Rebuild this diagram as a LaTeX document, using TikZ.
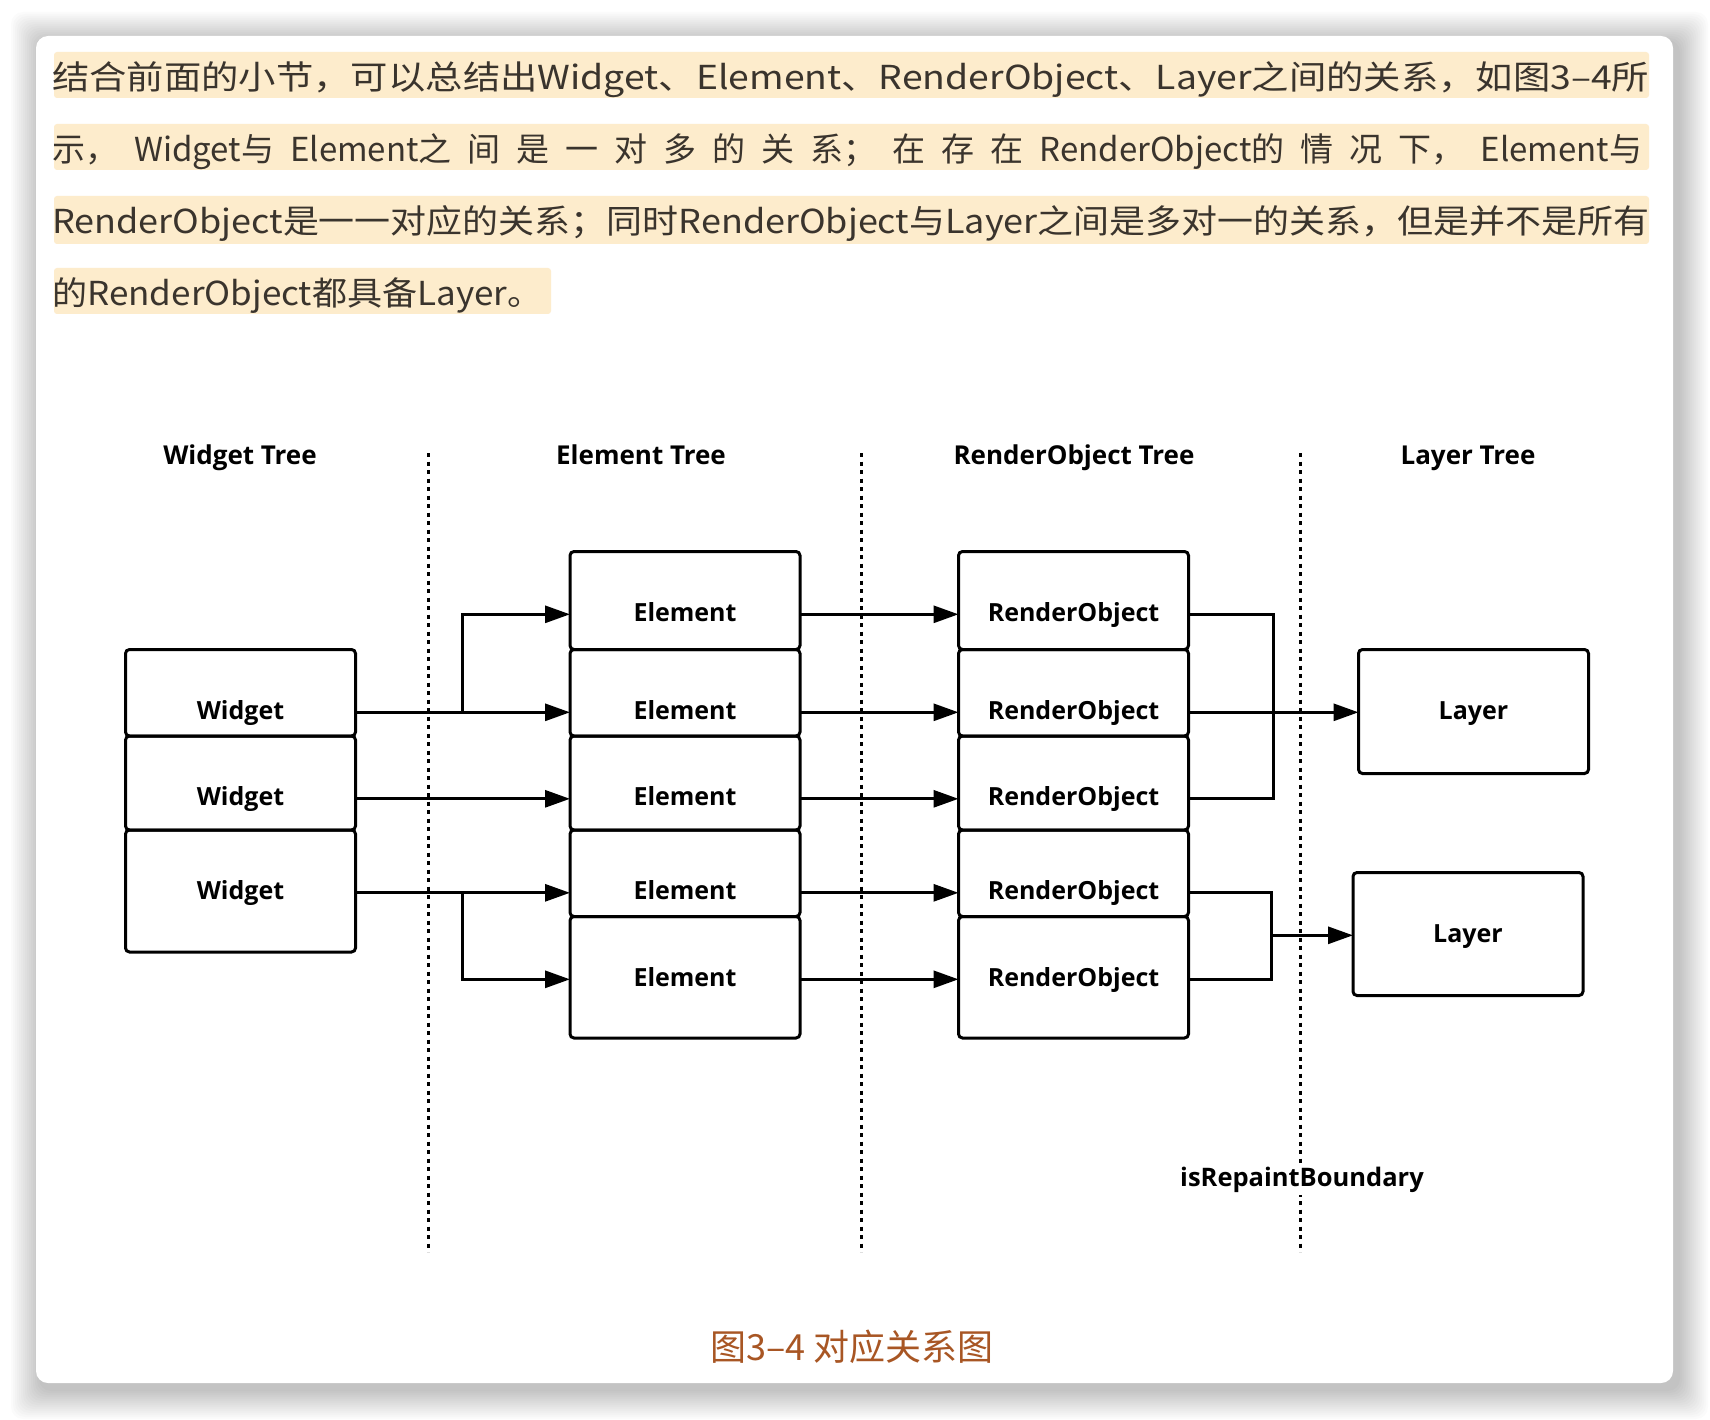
\documentclass[tikz,border=0pt]{standalone}
\usepackage{fontspec}
\usepackage{graphicx}
\usetikzlibrary{positioning,arrows.meta}
\newfontfamily\cjkfont{Noto Sans CJK SC}
\newfontfamily\treefont{Open Sans}
\definecolor{markbg}{RGB}{253,236,204}
\definecolor{bodytext}{RGB}{58,52,45}
\definecolor{captionfg}{RGB}{168,86,36}

\begin{document}
\begin{tikzpicture}[
  x=1pt, y=-1pt,
  box/.style={draw=black, line width=3pt, rounded corners=4pt, inner sep=0pt, outer sep=0pt, minimum width=230pt, text height=69.5pt, font=\treefont\bfseries\fontsize{25}{25}\selectfont},
  header/.style={anchor=base, font=\treefont\bfseries\fontsize{26}{26}\selectfont},
  link/.style={-{Triangle[length=25pt,width=17pt]}, line width=3pt, draw=black},
  wire/.style={line width=3pt, draw=black},
  divider/.style={line width=3pt, dash pattern=on 4pt off 4.5pt},
  para/.style={anchor=base west, inner sep=0pt, text=bodytext, font=\cjkfont\mdseries\fontsize{33}{33}\selectfont},
  hilite/.style={fill=markbg, rounded corners=3pt},
  caption/.style={font=\cjkfont\mdseries\fontsize{36}{36}\selectfont, text=captionfg}
]
% same font size outside the nodes, so that the mid anchors sit at the text
\treefont\fontsize{25}{25}\selectfont
\useasboundingbox (0,0) rectangle (1710,1420);
\fill[white] (0,0) rectangle (1710,1420);

% ========== Card with soft shadow ==========
\foreach \s in {1,...,15}
  \fill[black, opacity=0.014, rounded corners=12pt] (41-2*\s,42-2*\s) rectangle (1678+2*\s,1389+2*\s);
\fill[white, rounded corners=12pt] (36,36) rectangle (1673,1383);

% ========== Paragraph ==========
\fill[hilite] (54,52) rectangle (1649,98);
\fill[hilite] (54,124) rectangle (1649,170);
\fill[hilite] (54,196) rectangle (1649,244);
\fill[hilite] (54,268) rectangle (551,314);

\node[para] (line1) at (52,90) {\resizebox{1597pt}{\height}{结合前面的小节，可以总结出Widget、Element、RenderObject、Layer之间的关系，如图3–4所}};
\node[para] (line2) at (52,162) {\makebox[1590pt][s]{示， Widget与 Element之 间 是 一 对 多 的 关 系； 在 存 在 RenderObject的 情 况 下， Element与}};
\node[para] (line3) at (52,234) {\resizebox{1597pt}{\height}{RenderObject是一一对应的关系；同时RenderObject与Layer之间是多对一的关系，但是并不是所有}};
\node[para] (line4) at (52,306) {\resizebox{490pt}{\height}{的RenderObject都具备Layer。}};

% ========== Column headers and dividers ==========
\node[header] (hw) at (240,464) {Widget Tree};
\node[header] (he) at (641,464) {Element Tree};
\node[header] (hr) at (1074,464) {RenderObject Tree};
\node[header] (hl) at (1468,464) {Layer Tree};

\draw[divider] (428,453) -- (428,1252);
\draw[divider] (861.5,453) -- (861.5,1252);
\draw[divider] (1300,453) -- (1300,1252);

\node[header, fill=white, inner sep=3pt, font=\treefont\bfseries\fontsize{25.5}{25.5}\selectfont] (boundary) at (1302,1186) {isRepaintBoundary};

% ========== Element column ==========
\node[box, text depth=28.5pt, anchor=base] (e1) at (685,621) {Element};
\node[box, text depth=17pt, below=0pt of e1] (e2) {Element};
\node[box, text depth=24.5pt, below=0pt of e2] (e3) {Element};
\node[box, text depth=17pt, below=0pt of e3] (e4) {Element};
\node[box, text depth=52pt, below=0pt of e4] (e5) {Element};

% ========== Widget column ==========
\node[box, text depth=17pt, left=214.5pt of e2] (w1) {Widget};
\node[box, text depth=24.5pt, below=0pt of w1] (w2) {Widget};
\node[box, text depth=52.5pt, below=0pt of w2] (w3) {Widget};

% ========== RenderObject column ==========
\node[box, text depth=28.5pt, right=158.5pt of e1] (ro1) {RenderObject};
\node[box, text depth=17pt, below=0pt of ro1] (ro2) {RenderObject};
\node[box, text depth=24.5pt, below=0pt of ro2] (ro3) {RenderObject};
\node[box, text depth=17pt, below=0pt of ro3] (ro4) {RenderObject};
\node[box, text depth=52pt, below=0pt of ro4] (ro5) {RenderObject};

% ========== Layer column ==========
\node[box, text depth=54.5pt, right=170pt of ro2.base east, anchor=base west] (l1) {Layer};
\node[box, text depth=53.5pt, below=99pt of l1, xshift=-5.5pt] (l2) {Layer};

% -----------------------------
% Connectors
% -----------------------------
\coordinate (fork1) at ([xshift=106.5pt]w1.mid east);
\coordinate (fork2) at ([xshift=106.5pt]w3.mid east);
\coordinate (bus1) at ([xshift=85pt]ro1.mid east);
\coordinate (bus2) at ([xshift=82.5pt]ro4.mid east);

% ===== Widget -> Element (one to many) =====
\draw[link] (w1.mid east) -- (e2.mid west);
\draw[link] (fork1) |- (e1.mid west);
\draw[link] (w2.mid east) -- (e3.mid west);
\draw[link] (w3.mid east) -- (e4.mid west);
\draw[link] (fork2) |- (e5.mid west);

% ===== Element -> RenderObject (one to one) =====
\foreach \i in {1,...,5}
  \draw[link] (e\i.mid east) -- (ro\i.mid west);

% ===== RenderObject -> Layer (many to one) =====
\draw[wire] (ro1.mid east) -- (bus1) |- (ro3.mid east);
\draw[link] (ro2.mid east) -- (l1.mid west);
\draw[wire] (ro4.mid east) -- (bus2) |- (ro5.mid east);
\draw[link] (bus2 |- l2.mid west) -- (l2.mid west);

% ===== Caption =====
\node[caption] (cap) at (852,1347) {图3–4 对应关系图};

\end{tikzpicture}
\end{document}
